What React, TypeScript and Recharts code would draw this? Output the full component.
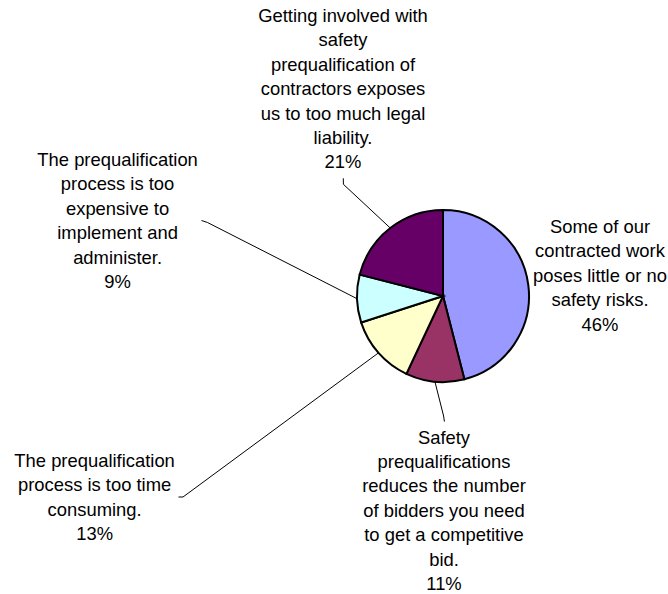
import { PieChart, Pie, Cell } from "recharts";

const categories = [
  ["Some of our", "contracted work", "poses little or no", "safety risks."],
  ["Safety", "prequalifications", "reduces the number", "of bidders you need", "to get a competitive", "bid."],
  ["The prequalification", "process is too time", "consuming."],
  ["The prequalification", "process is too", "expensive to", "implement and", "administer."],
  ["Getting involved with", "safety", "prequalification of", "contractors exposes", "us to too much legal", "liability."],
];
const shares = [46, 11, 13, 9, 21];

const colors = ["#9999FF", "#993366", "#FFFFCC", "#CCFFFF", "#660066"];

// where each label block sits (centre x, first baseline) and the bend of its leader line
const labelSpots: { x: number; y: number; leader?: number[][] }[] = [
  { x: 600, y: 233 },
  { x: 444, y: 443.5, leader: [[443.6, 416], [444.4, 421.6]] },
  { x: 94.6, y: 467, leader: [[183, 497], [178.5, 497]] },
  { x: 117.6, y: 166, leader: [[207.5, 222.5], [201.5, 220.5]] },
  { x: 343, y: 22, leader: [[343.4, 184.3], [343.3, 178.3]] },
];

const LINE = 24.4;
const RADIAN = Math.PI / 180;

const data = shares.map((v, i) => ({ name: categories[i].join(" "), value: v }));

const renderLabel = (props: any) => {
  const { cx, cy, midAngle, outerRadius, index, value } = props;
  const spot = labelSpots[index];
  const lines = [...categories[index], `${value}%`];
  const ex = cx + outerRadius * Math.cos(-midAngle * RADIAN);
  const ey = cy + outerRadius * Math.sin(-midAngle * RADIAN);
  return (
    <g key={`lbl-${index}`}>
      {spot.leader && (
        <polyline
          points={[[ex, ey], ...spot.leader].map((p) => p.join(",")).join(" ")}
          fill="none"
          stroke="#000"
          strokeWidth={1}
        />
      )}
      <text
        x={spot.x}
        y={spot.y}
        textAnchor="middle"
        fill="#000"
        fontSize={18.4}
        fontFamily='"Liberation Sans", Arial, sans-serif'
      >
        {lines.map((t, i) => (
          <tspan key={i} x={spot.x} y={spot.y + i * LINE}>
            {t}
          </tspan>
        ))}
      </text>
    </g>
  );
};

export default function App() {
  return (
    <div style={{ position: "absolute", left: 0, top: 0, background: "#fff" }}>
      <PieChart width={668} height={594} margin={{ top: 0, right: 0, bottom: 0, left: 0 }}>
        <Pie
          data={data}
          dataKey="value"
          cx={443}
          cy={296}
          outerRadius={86}
          startAngle={90}
          endAngle={-270}
          label={renderLabel}
          labelLine={false}
          isAnimationActive={false}
        >
          {data.map((_, i) => (
            <Cell key={`cell-${i}`} fill={colors[i]} stroke="#000" strokeWidth={2} />
          ))}
        </Pie>
      </PieChart>
    </div>
  );
}
